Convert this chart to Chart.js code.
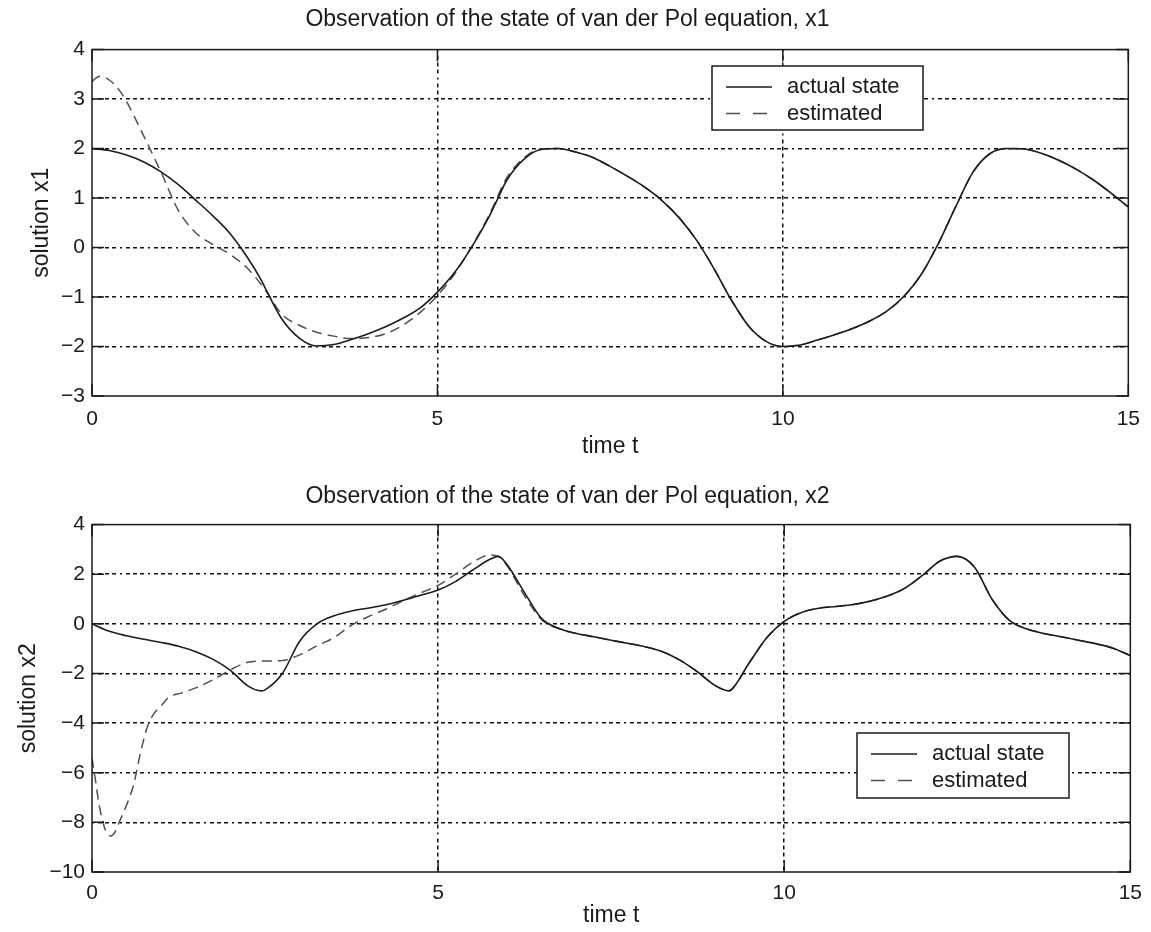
<!DOCTYPE html>
<html>
<head>
<meta charset="utf-8">
<title>Observation of the state of van der Pol equation</title>
<script src="https://cdn.jsdelivr.net/npm/chart.js@4.4.1/dist/chart.umd.min.js"></script>
<style>
  body { margin: 0; background: #fff; }
  .panel { width: 1151px; height: 466px; }
</style>
</head>
<body>
<div class="panel"><canvas id="chartX1" width="1151" height="466"></canvas></div>
<div class="panel"><canvas id="chartX2" width="1151" height="466"></canvas></div>
<script>
// time samples of the actual trajectory
const timeActual = [0, 0.25, 0.5, 0.75, 1, 1.25, 1.5, 1.75, 2, 2.25, 2.45, 2.5, 2.75, 3, 3.25, 3.5, 3.75, 4, 4.25, 4.5, 4.75, 5, 5.25, 5.5, 5.75, 5.87, 6, 6.25, 6.5, 6.75, 7, 7.25, 7.5, 7.75, 8, 8.25, 8.5, 8.75, 9, 9.2, 9.25, 9.5, 9.75, 10, 10.25, 10.5, 10.75, 11, 11.25, 11.5, 11.75, 12, 12.25, 12.5, 12.75, 13, 13.25, 13.5, 13.75, 14, 14.25, 14.5, 14.75, 15];

const x1Actual = [2.00, 1.96, 1.87, 1.73, 1.53, 1.27, 0.96, 0.64, 0.28, -0.20, -0.66, -0.80, -1.45, -1.83, -1.99, -1.96, -1.86, -1.74, -1.60, -1.43, -1.22, -0.90, -0.50, 0.02, 0.63, 0.98, 1.35, 1.78, 1.98, 2.00, 1.93, 1.82, 1.64, 1.44, 1.22, 0.95, 0.60, 0.15, -0.42, -0.93, -1.05, -1.58, -1.89, -2.00, -1.97, -1.87, -1.76, -1.64, -1.49, -1.29, -0.99, -0.55, 0.08, 0.82, 1.52, 1.90, 2.00, 1.99, 1.90, 1.76, 1.58, 1.36, 1.10, 0.82];

const x2Actual = [0.00, -0.30, -0.48, -0.62, -0.75, -0.90, -1.12, -1.43, -1.87, -2.50, -2.70, -2.66, -2.00, -0.70, 0.00, 0.33, 0.52, 0.64, 0.77, 0.95, 1.15, 1.36, 1.70, 2.17, 2.60, 2.72, 2.37, 1.25, 0.20, -0.19, -0.39, -0.52, -0.66, -0.79, -0.93, -1.13, -1.47, -1.94, -2.48, -2.70, -2.62, -1.55, -0.55, 0.10, 0.46, 0.63, 0.70, 0.78, 0.92, 1.13, 1.45, 1.96, 2.53, 2.72, 2.28, 1.00, 0.15, -0.20, -0.39, -0.52, -0.66, -0.80, -0.98, -1.28];

// observer estimate of x1
const timeEst1 = [0, 0.05, 0.12, 0.2, 0.3, 0.4, 0.5, 0.75, 1, 1.25, 1.5, 1.75, 2, 2.25, 2.5, 2.75, 3, 3.25, 3.5, 3.75, 4, 4.25, 4.5, 4.75, 5, 5.25, 5.5, 5.75, 6, 6.25, 6.5, 6.75, 7, 7.25, 7.5, 7.75, 8, 8.25, 8.5, 8.75, 9, 9.2, 9.25, 9.5, 9.75, 10, 10.25, 10.5, 10.75, 11, 11.25, 11.5, 11.75, 12, 12.25, 12.5, 12.75, 13, 13.25, 13.5, 13.75, 14, 14.25, 14.5, 14.75, 15];
const x1Estimated = [3.35, 3.42, 3.46, 3.43, 3.33, 3.17, 2.95, 2.25, 1.52, 0.75, 0.30, 0.06, -0.14, -0.42, -0.84, -1.35, -1.57, -1.71, -1.79, -1.84, -1.82, -1.74, -1.57, -1.31, -0.97, -0.53, 0.03, 0.66, 1.40, 1.81, 1.99, 2.00, 1.93, 1.82, 1.64, 1.44, 1.22, 0.95, 0.60, 0.15, -0.42, -0.93, -1.05, -1.58, -1.89, -2.00, -1.97, -1.87, -1.76, -1.64, -1.49, -1.29, -0.99, -0.55, 0.08, 0.82, 1.52, 1.90, 2.00, 1.99, 1.90, 1.76, 1.58, 1.36, 1.10, 0.82];

// observer estimate of x2
const timeEst2 = [0, 0.05, 0.1, 0.15, 0.2, 0.27, 0.33, 0.4, 0.5, 0.6, 0.7, 0.8, 0.9, 1, 1.1, 1.3, 1.5, 1.75, 2, 2.25, 2.5, 2.75, 3, 3.25, 3.5, 3.75, 4, 4.25, 4.5, 4.75, 5, 5.25, 5.5, 5.75, 5.87, 6, 6.25, 6.5, 6.75, 7, 7.25, 7.5, 7.75, 8, 8.25, 8.5, 8.75, 9, 9.2, 9.25, 9.5, 9.75, 10, 10.25, 10.5, 10.75, 11, 11.25, 11.5, 11.75, 12, 12.25, 12.5, 12.75, 13, 13.25, 13.5, 13.75, 14, 14.25, 14.5, 14.75, 15];
const x2Estimated = [-5.40, -6.30, -7.25, -7.90, -8.35, -8.55, -8.40, -7.95, -7.30, -6.50, -5.20, -4.15, -3.60, -3.30, -2.98, -2.78, -2.58, -2.25, -1.85, -1.55, -1.50, -1.48, -1.25, -0.88, -0.55, -0.05, 0.30, 0.60, 0.94, 1.25, 1.55, 2.00, 2.48, 2.78, 2.72, 2.33, 1.12, 0.16, -0.20, -0.39, -0.52, -0.66, -0.79, -0.93, -1.13, -1.47, -1.94, -2.48, -2.70, -2.62, -1.55, -0.55, 0.10, 0.46, 0.63, 0.70, 0.78, 0.92, 1.13, 1.45, 1.96, 2.53, 2.72, 2.28, 1.00, 0.15, -0.20, -0.39, -0.52, -0.66, -0.80, -0.98, -1.28];

const seriesLabels = ['actual state', 'estimated'];

const FONT = "'Liberation Sans', Arial, Helvetica, sans-serif";
const INK = '#1a1a1a';
const gridDash = [2, 4, 4, 3, 4, 3, 4, 4];

Chart.defaults.font.family = FONT;
Chart.defaults.color = INK;

function points(ts, vs) {
  return ts.map((t, i) => ({ x: t, y: vs[i] }));
}

function minusSign(v) {
  return v < 0 ? '\u2212' + Math.abs(v) : String(v);
}

function gridColor(c) {
  if (c.tick && (c.tick.value === c.scale.min || c.tick.value === c.scale.max)) return 'rgba(0,0,0,0)';
  return '#111';
}

// box around the axes, inward tick marks and the boxed legend
const boxPlugin = {
  id: 'boxPlugin',
  afterDatasetsDraw(chart, args, opts) {
    const ctx = chart.ctx;
    const a = chart.chartArea;
    const xs = chart.scales.x;
    const ys = chart.scales.y;
    ctx.save();
    ctx.setLineDash([]);
    ctx.strokeStyle = INK;
    ctx.lineWidth = 1.5;

    ctx.beginPath();
    xs.ticks.forEach(tk => {
      const px = xs.getPixelForValue(tk.value);
      ctx.moveTo(px, a.bottom); ctx.lineTo(px, a.bottom - 12);
      ctx.moveTo(px, a.top); ctx.lineTo(px, a.top + 12);
    });
    ys.ticks.forEach(tk => {
      const py = ys.getPixelForValue(tk.value);
      ctx.moveTo(a.left, py); ctx.lineTo(a.left + 12, py);
      ctx.moveTo(a.right, py); ctx.lineTo(a.right - 12, py);
    });
    ctx.stroke();
    ctx.strokeRect(a.left, a.top, a.right - a.left, a.bottom - a.top);

    const L = opts.legend;
    ctx.fillStyle = '#fff';
    ctx.fillRect(L.x, L.y, L.w, L.h);
    ctx.strokeRect(L.x, L.y, L.w, L.h);
    ctx.font = '22px ' + FONT;
    ctx.textBaseline = 'middle';
    ctx.textAlign = 'left';
    chart.data.datasets.forEach((ds, i) => {
      const yy = L.y + 21 + i * 26.5;
      ctx.save();
      ctx.strokeStyle = ds.borderColor;
      ctx.lineWidth = ds.borderWidth;
      ctx.setLineDash(ds.borderDash ? [14, 13] : []);
      ctx.beginPath();
      ctx.moveTo(L.x + 14, yy);
      ctx.lineTo(L.x + 60, yy);
      ctx.stroke();
      ctx.restore();
      ctx.fillStyle = INK;
      ctx.fillText(ds.label, L.x + 75, yy);
    });
    ctx.restore();
  }
};

function makeChart(id, p) {
  const ctx = document.getElementById(id).getContext('2d');
  return new Chart(ctx, {
    type: 'line',
    data: {
      datasets: [{
        label: seriesLabels[0],
        data: points(p.tAct, p.act),
        borderColor: '#1c1c1c',
        borderWidth: 1.6,
        pointRadius: 0,
        cubicInterpolationMode: 'monotone',
        fill: false
      }, {
        label: seriesLabels[1],
        data: points(p.tEst, p.est),
        borderColor: '#505050',
        borderWidth: 1.5,
        borderDash: [10, 6],
        pointRadius: 0,
        cubicInterpolationMode: 'monotone',
        fill: false
      }]
    },
    options: {
      responsive: false,
      animation: false,
      events: [],
      layout: { padding: { left: 0, right: 16, top: 0, bottom: 0 } },
      plugins: {
        legend: { display: false },
        tooltip: { enabled: false },
        title: {
          display: true,
          text: p.title,
          color: INK,
          font: { size: 23, weight: 'normal' },
          padding: p.titlePad
        },
        boxPlugin: { legend: p.legend }
      },
      scales: {
        x: {
          type: 'linear',
          min: 0,
          max: 15,
          ticks: { stepSize: 5, padding: p.xTickPad, maxRotation: 0, color: INK, font: { size: 21 } },
          grid: { color: gridColor, lineWidth: 1.5, drawTicks: false },
          border: { display: false, dash: gridDash },
          title: { display: true, text: 'time t', color: INK, font: { size: 23 }, padding: { top: 0, bottom: p.xTitlePad } },
          afterFit: s => { s.height = p.xHeight; }
        },
        y: {
          min: p.yMin,
          max: p.yMax,
          ticks: { stepSize: p.yStep, padding: 7, color: INK, font: { size: 21 }, callback: minusSign },
          grid: { color: gridColor, lineWidth: 1.5, drawTicks: false },
          border: { display: false, dash: gridDash },
          title: { display: true, text: p.yTitle, color: INK, font: { size: 23 }, padding: { top: p.yTitlePad, bottom: 0 } },
          afterFit: s => { s.width = 92; }
        }
      }
    },
    plugins: [boxPlugin]
  });
}

makeChart('chartX1', {
  title: 'Observation of the state of van der Pol equation, x1',
  titlePad: { top: 6, bottom: 16 },
  tAct: timeActual, act: x1Actual,
  tEst: timeEst1, est: x1Estimated,
  yMin: -3, yMax: 4, yStep: 1,
  yTitle: 'solution x1', yTitlePad: 28,
  xTickPad: 11, xTitlePad: 6, xHeight: 70,
  legend: { x: 712, y: 66, w: 211, h: 64 }
});

makeChart('chartX2', {
  title: 'Observation of the state of van der Pol equation, x2',
  titlePad: { top: 17, bottom: 14 },
  tAct: timeActual, act: x2Actual,
  tEst: timeEst2, est: x2Estimated,
  yMin: -10, yMax: 4, yStep: 2,
  yTitle: 'solution x2', yTitlePad: 15,
  xTickPad: 9, xTitlePad: 3, xHeight: 60,
  legend: { x: 857, y: 267, w: 212, h: 65 }
});
</script>
</body>
</html>
